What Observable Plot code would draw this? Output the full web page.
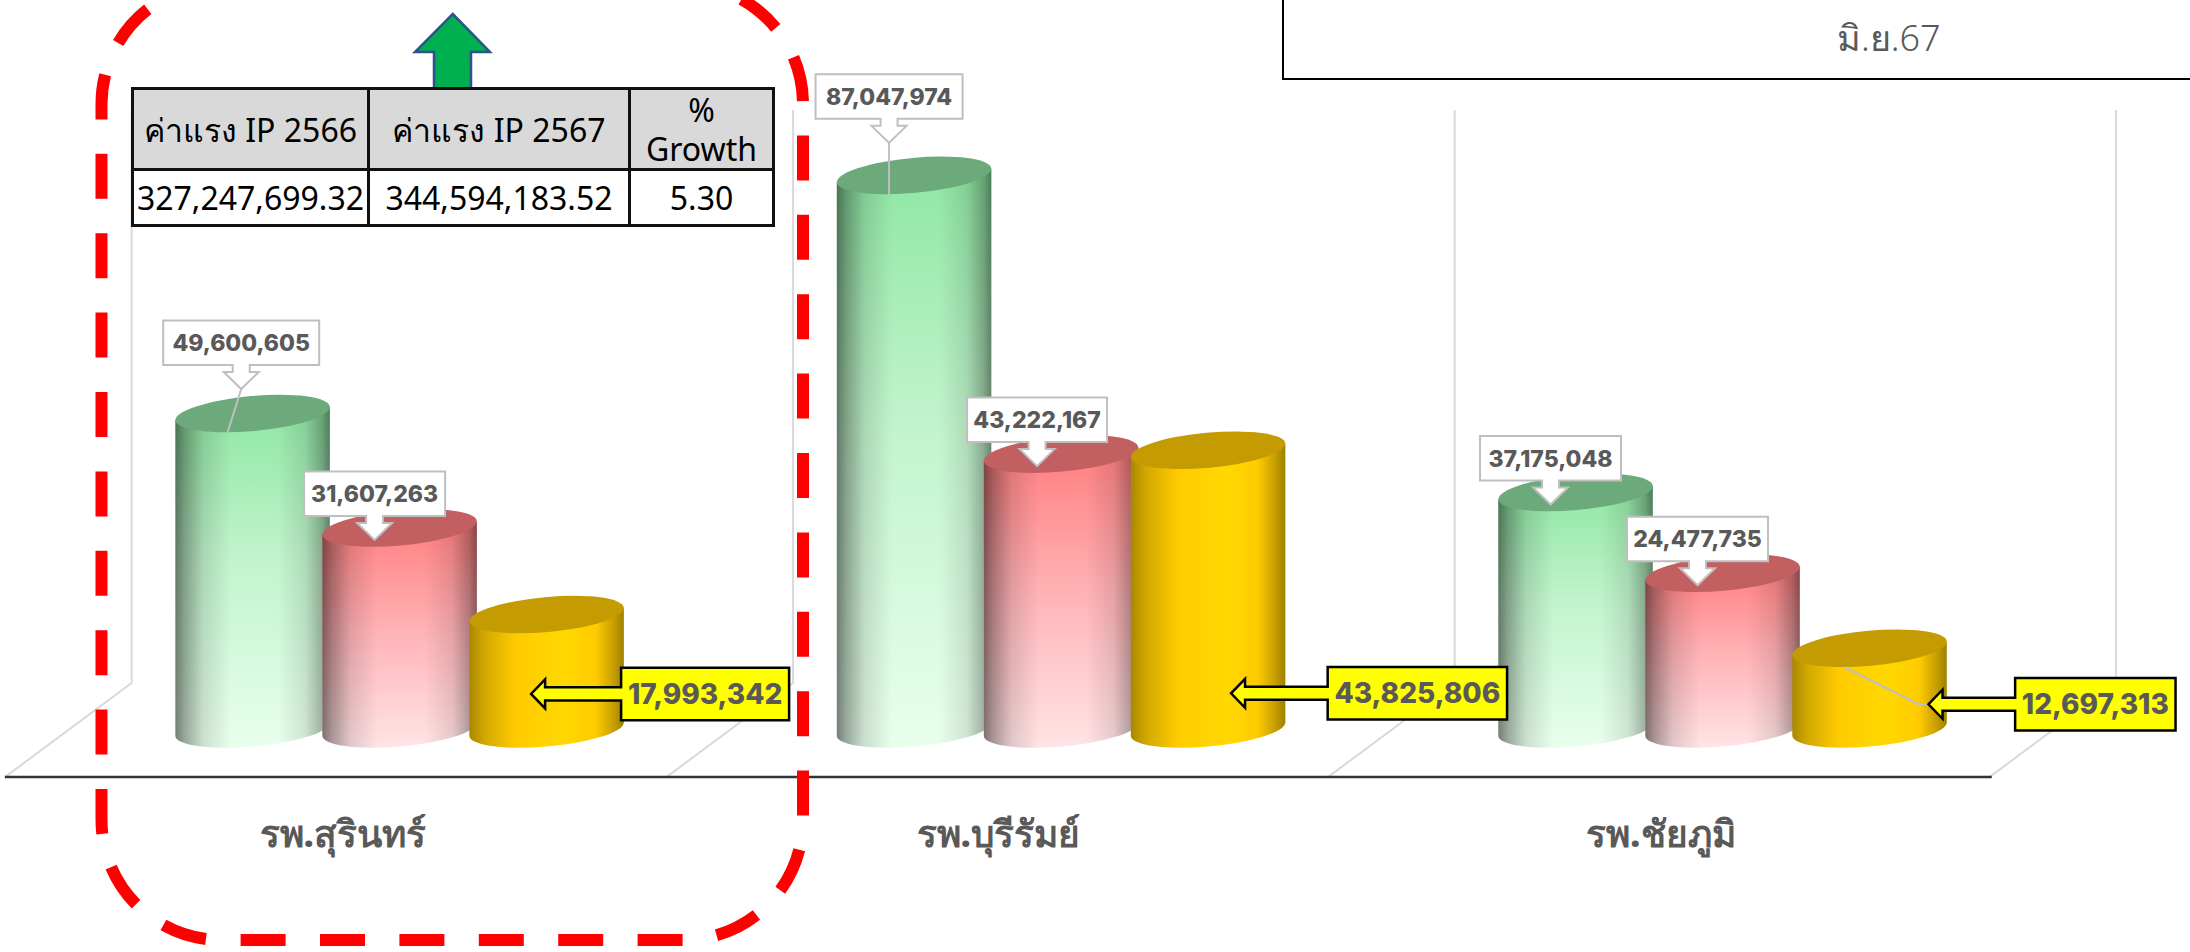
<!DOCTYPE html>
<html lang="th">
<head>
<meta charset="utf-8">
<script src="https://cdn.jsdelivr.net/npm/d3@7"></script>
<script src="https://cdn.jsdelivr.net/npm/@observablehq/plot@0.6"></script>
<style>
html,body{margin:0;padding:0;background:#fff;width:2190px;height:952px;overflow:hidden}
#chart{position:absolute;left:0;top:0}
#period{position:absolute;left:1282px;top:-3px;width:908px;height:81px;border-left:2px solid #000;border-bottom:2px solid #000;
 font:300 36px "Noto Sans",Lato,sans-serif;color:#595959;box-sizing:content-box}
#period span{position:absolute;left:553px;top:18px;width:0;white-space:nowrap;line-height:46px}
table{position:absolute;left:131px;top:87px;border-collapse:collapse;background:#fff;font:400 32px "Noto Sans",Lato,sans-serif;color:#000;table-layout:fixed;width:641px}
td{border:3px solid #111;text-align:center;padding:0;white-space:nowrap;overflow:hidden;line-height:39px}
tr.h td{background:#D9D9D9;height:77px}
tr.v td{height:53px}
</style>
</head>
<body>
<div id="chart"></div>
<div id="period"><span>มิ.ย.67</span></div>
<table>
<colgroup><col style="width:236px"><col style="width:261px"><col style="width:144px"></colgroup>
<tr class="h" id="thead"></tr><tr class="v" id="tbody"></tr>
</table>
<script>
const hospitals = ["รพ.สุรินทร์", "รพ.บุรีรัมย์", "รพ.ชัยภูมิ"];
const seriesKeys = ["green", "red", "yellow"];
const greenValues = [49600605, 87047974, 37175048];
const redValues = [31607263, 43222167, 24477735];
const yellowValues = [17993342, 43825806, 12697313];
const tableHeaders = ["ค่าแรง IP 2566", "ค่าแรง IP 2567", "%<br>Growth"];
const tableValues = ["327,247,699.32", "344,594,183.52", "5.30"];

document.getElementById("thead").innerHTML = tableHeaders.map(t => `<td>${t}</td>`).join("");
document.getElementById("tbody").innerHTML = tableValues.map(t => `<td>${t}</td>`).join("");

const rows = hospitals.flatMap((hospital, h) => [greenValues, redValues, yellowValues].map((vals, s) =>
  ({hospital, h, s, series: seriesKeys[s], value: vals[h]})));

// layout
const W = 2190, H = 952, floorY = 776.6, zeroY = 729, pxPerM = 6.36;
const groupOffset = 247, spacing = 147, halfW = 77.25, ellA = 77.5, ellB = 17.5, tilt = 5.2, endDy = 6.6;
const labelNudge = [6, 0, 1];
const shades = {
  green: {top:"#6CA97B", stops:[["0%","#8FE6A4"],["45%","#C2F4CC"],["100%","#E8FFEC"]]},
  red: {top:"#C25F61", stops:[["0%","#FF7E80"],["50%","#FFB4B7"],["100%","#FFE4E6"]]},
  yellow: {top:"#C49B00", stops:[["0%","#FFD000"],["100%","#FFD000"]]}
};
// tip of each callout relative to the top of its cylinder, with optional leader end
const callouts = {
  "0-0": {dx:-11.4, dy:-24.5, bw:156, leader:[[-25,19]]},
  "1-0": {dx:-25, dy:-32.5, bw:147, leader:[[-25,19.5]]},
  "2-0": {dx:-25, dy:12, bw:141},
  "0-1": {dx:-25, dy:12, bw:141},
  "1-1": {dx:-24, dy:12, bw:140},
  "2-1": {dx:-25, dy:12, bw:141},
  "0-2": {dx:-15.5, dy:79.4, gap:90, bw:168},
  "1-2": {dx:23, dy:243, gap:96.6, bw:179.4},
  "2-2": {dx:59, dy:56, gap:86.6, bw:160.4, leader:[[-25,19],[49,56]]}
};
const numFont = "Inter, Lato, sans-serif";
const thaiFont = '"Noto Sans",Lato,sans-serif';
const fmt = d3.format(",");

function defs(g) {
  const d = g.append("defs");
  for (const k of seriesKeys) {
    const lg = d.append("linearGradient").attr("id","v-"+k).attr("x1",0).attr("y1",0).attr("x2",0).attr("y2",1);
    for (const [o,c] of shades[k].stops) lg.append("stop").attr("offset",o).attr("stop-color",c);
  }
  const sh = d.append("linearGradient").attr("id","shade").attr("x1",0).attr("y1",0).attr("x2",1).attr("y2",0);
  [[0,.5],[.06,.34],[.18,.12],[.36,0],[.66,0],[.84,.1],[.95,.3],[1,.46]].forEach(([o,a]) =>
    sh.append("stop").attr("offset",o).attr("stop-color","#000").attr("stop-opacity",a));
  const ys = d.append("linearGradient").attr("id","shadeY").attr("x1",0).attr("y1",0).attr("x2",1).attr("y2",0);
  [[0,"#A98800"],[.1,"#D2A800"],[.3,"#FFCB00"],[.62,"#FFD800"],[.82,"#FFCB00"],[.93,"#C9A000"],[1,"#9C8000"]].forEach(([o,c]) =>
    ys.append("stop").attr("offset",o).attr("stop-color",c));
}

function renderWalls(index, scales) {
  const g = d3.create("svg:g").attr("stroke","#D9D9D9").attr("stroke-width",2).attr("fill","none");
  const x0 = scales.x(hospitals[0]);
  const fronts = d3.range(hospitals.length + 1).map(i => x0 + i*661.5);
  for (const x of fronts) {
    g.append("path").attr("d", `M${x},${floorY} L${x+126},683 V110`);
  }
  return g.node();
}

function cx(scales, d) { return scales.x(d.hospital) + groupOffset + d.s*spacing; }

function renderCylinders(index, scales) {
  const g = d3.create("svg:g");
  defs(g);
  const y0 = scales.y(0);
  for (const i of index) {
    const d = rows[i], c = cx(scales, d), yt = scales.y(d.value);
    const body = `M${c-halfW},${yt+endDy} L${c+halfW},${yt-endDy} L${c+halfW},${y0-endDy} A${ellA},${ellB} ${-tilt} 0 1 ${c-halfW},${y0+endDy} Z`;
    if (d.series === "yellow") {
      g.append("path").attr("d",body).attr("fill","url(#shadeY)");
    } else {
      g.append("path").attr("d",body).attr("fill",`url(#v-${d.series})`);
      g.append("path").attr("d",body).attr("fill","url(#shade)");
    }
    g.append("ellipse").attr("cx",c).attr("cy",yt).attr("rx",ellA).attr("ry",ellB)
      .attr("transform",`rotate(${-tilt} ${c} ${yt})`).attr("fill",shades[d.series].top);
  }
  return g.node();
}

function renderCallouts(index, scales) {
  const g = d3.create("svg:g").attr("text-anchor","middle");
  for (const i of index) {
    const d = rows[i], c = cx(scales, d), yt = scales.y(d.value);
    const o = callouts[d.h+"-"+d.s];
    const tx = c + o.dx, ty = yt + o.dy;
    if (o.leader) {
      const pts = [...o.leader.map(([a,b]) => [c+a, yt+b]), [tx,ty]];
      g.append("path").attr("d","M"+pts.map(p=>p.join(",")).join(" L")).attr("fill","none").attr("stroke","#BFBFBF").attr("stroke-width",2);
    }
    const label = fmt(d.value);
    if (d.series === "yellow") {
      const bx = tx + o.gap, bh = 52.4, by = ty - bh/2;
      const p = `M${bx},${by} H${bx+o.bw} V${by+bh} H${bx} V${ty+6.6} H${tx+14} V${ty+14.5} L${tx},${ty} L${tx+14},${ty-14.5} V${ty-6.6} H${bx} Z`;
      g.append("path").attr("d",p).attr("fill","#FFFF00").attr("stroke","#000").attr("stroke-width",2.5);
      g.append("text").attr("x",bx+o.bw/2).attr("y",ty).attr("dy","0.36em")
        .attr("font-family",numFont).attr("font-weight",800).attr("font-size",28).attr("fill","#595959").text(label);
    } else {
      const bh = 44.5, by = ty - 24 - bh, bx = tx - o.bw/2, hy = ty - 17;
      const p = `M${bx},${by} H${bx+o.bw} V${by+bh} H${tx+8.5} V${hy} H${tx+17.5} L${tx},${ty} L${tx-17.5},${hy} H${tx-8.5} V${by+bh} H${bx} Z`;
      g.append("path").attr("d",p).attr("fill","#fff").attr("stroke","#BFBFBF").attr("stroke-width",2);
      g.append("text").attr("x",tx).attr("y",by+bh/2).attr("dy","0.36em")
        .attr("font-family",numFont).attr("font-weight",800).attr("font-size",23).attr("fill","#595959").text(label);
    }
  }
  return g.node();
}

function renderAnnotations() {
  const g = d3.create("svg:g");
  g.append("path").attr("d","M452.7,14 L490,52 H471 V92 H434 V52 H415 Z")
    .attr("fill","#00B050").attr("stroke","#2F528F").attr("stroke-width",2.5);
  g.append("path").attr("d","M221.5,940 H683 A120,120 0 0 0 803,820 V104 A120,120 0 0 0 683,-16 H300")
    .attr("fill","none").attr("stroke","#FF0000").attr("stroke-width",12)
    .attr("stroke-dasharray","45 34.4").attr("stroke-dashoffset",-19.1);
  g.append("path").attr("d","M300,-16 H221.5 A120,120 0 0 0 101.5,104 V820 A120,120 0 0 0 221.5,940")
    .attr("fill","none").attr("stroke","#FF0000").attr("stroke-width",12)
    .attr("stroke-dasharray","45 34.4").attr("stroke-dashoffset",0.9);
  return g.node();
}

const chart = Plot.plot({
  width: W, height: H,
  marginLeft: 5.6, marginRight: 200, marginTop: 0, marginBottom: H - floorY,
  style: {background:"#fff", overflow:"visible"},
  x: {type:"band", domain: hospitals, padding: 0, round: false, label: null},
  y: {domain: [-(floorY-zeroY)/pxPerM*1e6, zeroY/pxPerM*1e6], axis: null},
  marks: [
    renderWalls,
    Plot.frame({anchor:"bottom", stroke:"#333", strokeWidth:2.5}),
    ...hospitals.map((h, i) => Plot.axisX([h], {anchor:"bottom", tickSize:0, tickPadding:44, dx:labelNudge[i], fontSize:37, fontWeight:800, fill:"#595959", fontFamily:thaiFont, label:null})),
    Plot.barY(rows, {x:"hospital", y1:() => 0, y2:"value", render: renderCylinders}),
    Plot.barY(rows, {x:"hospital", y1:() => 0, y2:"value", render: renderCallouts}),
    renderAnnotations
  ]
});
document.getElementById("chart").appendChild(chart);
</script>
</body>
</html>
